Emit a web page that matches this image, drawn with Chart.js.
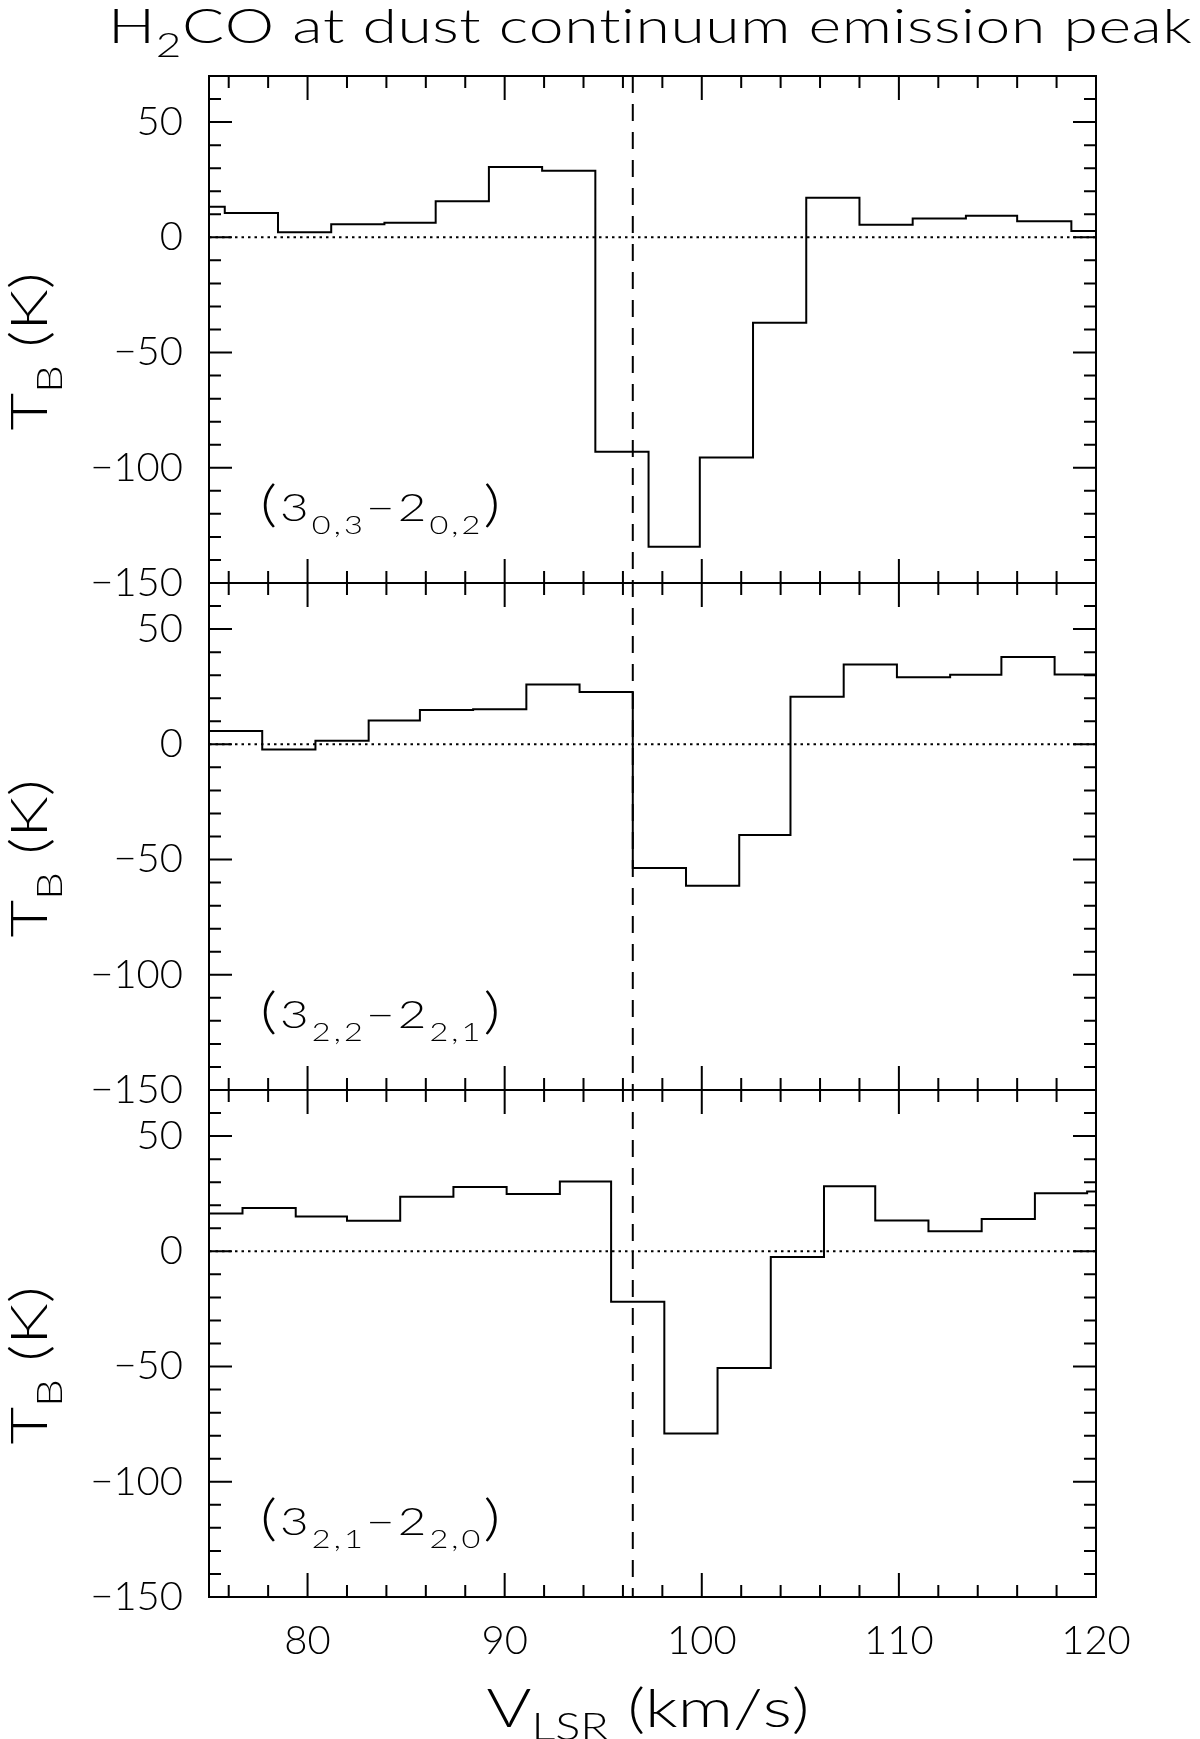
<!DOCTYPE html>
<html>
<head>
<meta charset="utf-8">
<script src="https://cdn.jsdelivr.net/npm/chart.js@4.4.0/dist/chart.umd.min.js"></script>
<style>
  html, body { margin: 0; padding: 0; background: #fff; }
  #wrap { width: 1200px; height: 1739px; }
</style>
</head>
<body>
<div id="wrap"><canvas id="spec" width="1200" height="1739"></canvas></div>
<script>
const FONT = 'Lato';

// axis ranges (km/s, K) and the systemic velocity marked by the dashed line
const vMin = 75, vMax = 120;
const tMin = -150, tMax = 70;
const vSys = 96.5;

// channel boundaries (km/s) and brightness temperatures (K), one value per channel
// (3_0,3 - 2_0,2)
const edges303 = [73.1, 75.8, 78.5, 81.2, 83.9, 86.5, 89.2, 91.9, 94.6, 97.3, 99.9,
                  102.6, 105.3, 108.0, 110.7, 113.4, 116.0, 118.75, 121.4];
const t303 = [13.3, 10.5, 2.2, 5.7, 6.3, 15.6, 30.5, 28.9, -93.0, -134.3,
              -95.5, -37.1, 17.2, 5.5, 8.2, 9.4, 7.0, 2.7];

// (3_2,2 - 2_2,1)
const edges322 = [75.0, 77.7, 80.4, 83.1, 85.7, 88.4, 91.1, 93.8, 96.5, 99.2,
                  101.9, 104.5, 107.2, 109.9, 112.6, 115.2, 117.9, 120.6];
const t322 = [5.8, -2.2, 1.6, 10.3, 14.9, 15.2, 26.0, 22.7, -53.7, -61.4,
              -39.3, 20.6, 34.6, 29.1, 30.2, 37.9, 30.3];

// (3_2,1 - 2_2,0)
const edges321 = [74.0, 76.7, 79.4, 82.0, 84.7, 87.4, 90.1, 92.8, 95.4, 98.1, 100.8,
                  103.5, 106.2, 108.8, 111.5, 114.2, 116.9, 119.55, 122.2];
const t321 = [16.4, 18.8, 15.1, 13.3, 23.7, 27.9, 24.9, 30.3, -21.9, -79.0,
              -50.6, -2.5, 28.2, 13.4, 8.7, 14.0, 25.2, 26.0];

// transition labels: upper level, its subscript, lower level, its subscript
const labels303 = ['3', '0,3', '2', '0,2'];
const labels322 = ['3', '2,2', '2', '2,1'];
const labels321 = ['3', '2,1', '2', '2,0'];

const axisIds = ['yA', 'yB', 'yC'];
const allEdges = [edges303, edges322, edges321];
const allTemps = [t303, t322, t321];
const allLabels = [labels303, labels322, labels321];

function histogram(edges, values) {
  // last boundary closes the final channel
  return edges.map((e, i) => ({ x: e, y: values[Math.min(i, values.length - 1)] }));
}

const datasets = [];
axisIds.forEach((id, i) => {
  datasets.push({
    data: histogram(allEdges[i], allTemps[i]),
    yAxisID: id,
    stepped: true,
    borderColor: '#000',
    borderWidth: 2,
    pointRadius: 0,
    fill: false,
    order: 0
  });
  datasets.push({
    data: [{ x: vMin, y: 0 }, { x: vMax, y: 0 }],
    yAxisID: id,
    borderColor: '#000',
    borderWidth: 2,
    borderDash: [2.5, 4],
    pointRadius: 0,
    fill: false,
    order: 1
  });
});

const tickFont = { family: FONT, size: 40, weight: 300 };
const minus = v => (v < 0 ? '\u2212' + (-v) : String(v));

function yScale(weight) {
  return {
    type: 'linear',
    position: 'left',
    stack: 'panels',
    stackWeight: 1,
    weight: weight,
    min: tMin,
    max: tMax,
    grid: { display: false, drawTicks: false },
    border: { display: false },
    ticks: {
      stepSize: 50,
      includeBounds: false,
      autoSkip: false,
      padding: 26,
      color: '#000',
      font: tickFont,
      callback: v => (v % 50 === 0 ? minus(v) : null)
    },
    afterFit: s => { s.width = 209; }
  };
}

function fontStr(size) {
  return '300 ' + size + 'px ' + FONT;
}

function runsWidth(ctx, runs) {
  let w = 0, n = 0;
  runs.forEach(r => {
    ctx.font = fontStr(r.size);
    for (const ch of r.t) { w += ctx.measureText(ch).width; n++; }
  });
  return { w, n };
}

// plotter-style lettering: glyphs widened up to maxStretch, the rest goes into spacing
function drawRuns(ctx, x, y, runs, target, maxStretch) {
  const m = runsWidth(ctx, runs);
  const sx = Math.min(maxStretch, target / m.w);
  const gap = (target - m.w * sx) / Math.max(1, m.n - 1);
  runs.forEach(r => {
    ctx.font = fontStr(r.size);
    for (const ch of r.t) {
      ctx.save();
      ctx.translate(x, y + (r.dy || 0));
      ctx.scale(sx, 1);
      ctx.fillText(ch, 0, 0);
      ctx.restore();
      x += ctx.measureText(ch).width * sx + gap;
    }
  });
}

const framePlugin = {
  id: 'frame',
  afterDatasetsDraw(chart) {
    const ctx = chart.ctx;
    const x = chart.scales.x;
    const area = chart.chartArea;
    ctx.save();
    ctx.strokeStyle = '#000';
    ctx.lineWidth = 2;
    ctx.lineCap = 'butt';

    axisIds.forEach(id => {
      const s = chart.scales[id];
      ctx.strokeRect(area.left, s.top, area.right - area.left, s.bottom - s.top);
      ctx.beginPath();
      for (let v = tMin; v <= tMax; v += 10) {
        const py = s.getPixelForValue(v);
        const len = v % 50 === 0 ? 23 : 12;
        ctx.moveTo(area.left, py); ctx.lineTo(area.left + len, py);
        ctx.moveTo(area.right, py); ctx.lineTo(area.right - len, py);
      }
      for (let v = vMin + 1; v < vMax; v += 2) {
        const px = x.getPixelForValue(v);
        const len = v % 10 === 0 ? 24 : 12;
        ctx.moveTo(px, s.top); ctx.lineTo(px, s.top + len);
        ctx.moveTo(px, s.bottom); ctx.lineTo(px, s.bottom - len);
      }
      ctx.stroke();
    });

    // systemic velocity
    const px = x.getPixelForValue(vSys);
    ctx.setLineDash([17, 11]);
    ctx.beginPath();
    ctx.moveTo(px, area.top);
    ctx.lineTo(px, area.bottom);
    ctx.stroke();
    ctx.restore();
  }
};

const textPlugin = {
  id: 'texts',
  afterDraw(chart) {
    const ctx = chart.ctx;
    const x = chart.scales.x;
    const area = chart.chartArea;
    ctx.save();
    ctx.fillStyle = '#000';
    ctx.textBaseline = 'alphabetic';
    ctx.textAlign = 'left';

    // title
    drawRuns(ctx, 108, 43, [
      { t: 'H', size: 48 },
      { t: '2', size: 34, dy: 14 },
      { t: 'CO at dust continuum emission peak', size: 48 }
    ], 1084, 1.3);

    // x axis title
    drawRuns(ctx, (area.left + area.right) / 2 - 166, 1727, [
      { t: 'V', size: 54 },
      { t: 'LSR', size: 37, dy: 13 },
      { t: ' (km/s)', size: 54 }
    ], 323, 1.3);

    axisIds.forEach((id, i) => {
      const s = chart.scales[id];
      // y axis title, rotated
      ctx.save();
      ctx.translate(47, (s.top + s.bottom) / 2 + 22);
      ctx.rotate(-Math.PI / 2);
      drawRuns(ctx, -79, 0, [
        { t: 'T', size: 52 },
        { t: 'B', size: 35, dy: 15 },
        { t: ' (K)', size: 52 }
      ], 158, 1.3);
      ctx.restore();

      // transition label
      const lb = allLabels[i];
      drawRuns(ctx, x.getPixelForValue(77.6), s.getPixelForValue(-123), [
        { t: '(', size: 50 },
        { t: lb[0], size: 38 },
        { t: lb[1], size: 25, dy: 13 },
        { t: '\u2212', size: 38 },
        { t: lb[2], size: 38 },
        { t: lb[3], size: 25, dy: 13 },
        { t: ')', size: 50 }
      ], 240, 1.3);
    });
    ctx.restore();
  }
};

new Chart(document.getElementById('spec'), {
  type: 'line',
  data: { datasets },
  options: {
    responsive: false,
    animation: false,
    devicePixelRatio: 1,
    layout: { padding: { top: 76, right: 104, left: 0, bottom: 0 } },
    plugins: {
      legend: { display: false },
      tooltip: { enabled: false },
      title: { display: false }
    },
    scales: {
      x: {
        type: 'linear',
        position: 'bottom',
        min: vMin,
        max: vMax,
        grid: { display: false, drawTicks: false },
        border: { display: false },
        ticks: {
          stepSize: 10,
          includeBounds: false,
          autoSkip: false,
          maxRotation: 0,
          padding: 20,
          color: '#000',
          font: tickFont,
          callback: v => (v % 10 === 0 ? String(v) : null)
        },
        afterFit: s => { s.height = 1739 - 1597; }
      },
      yA: yScale(3),
      yB: yScale(2),
      yC: yScale(1)
    }
  },
  plugins: [framePlugin, textPlugin]
});
</script>
</body>
</html>
